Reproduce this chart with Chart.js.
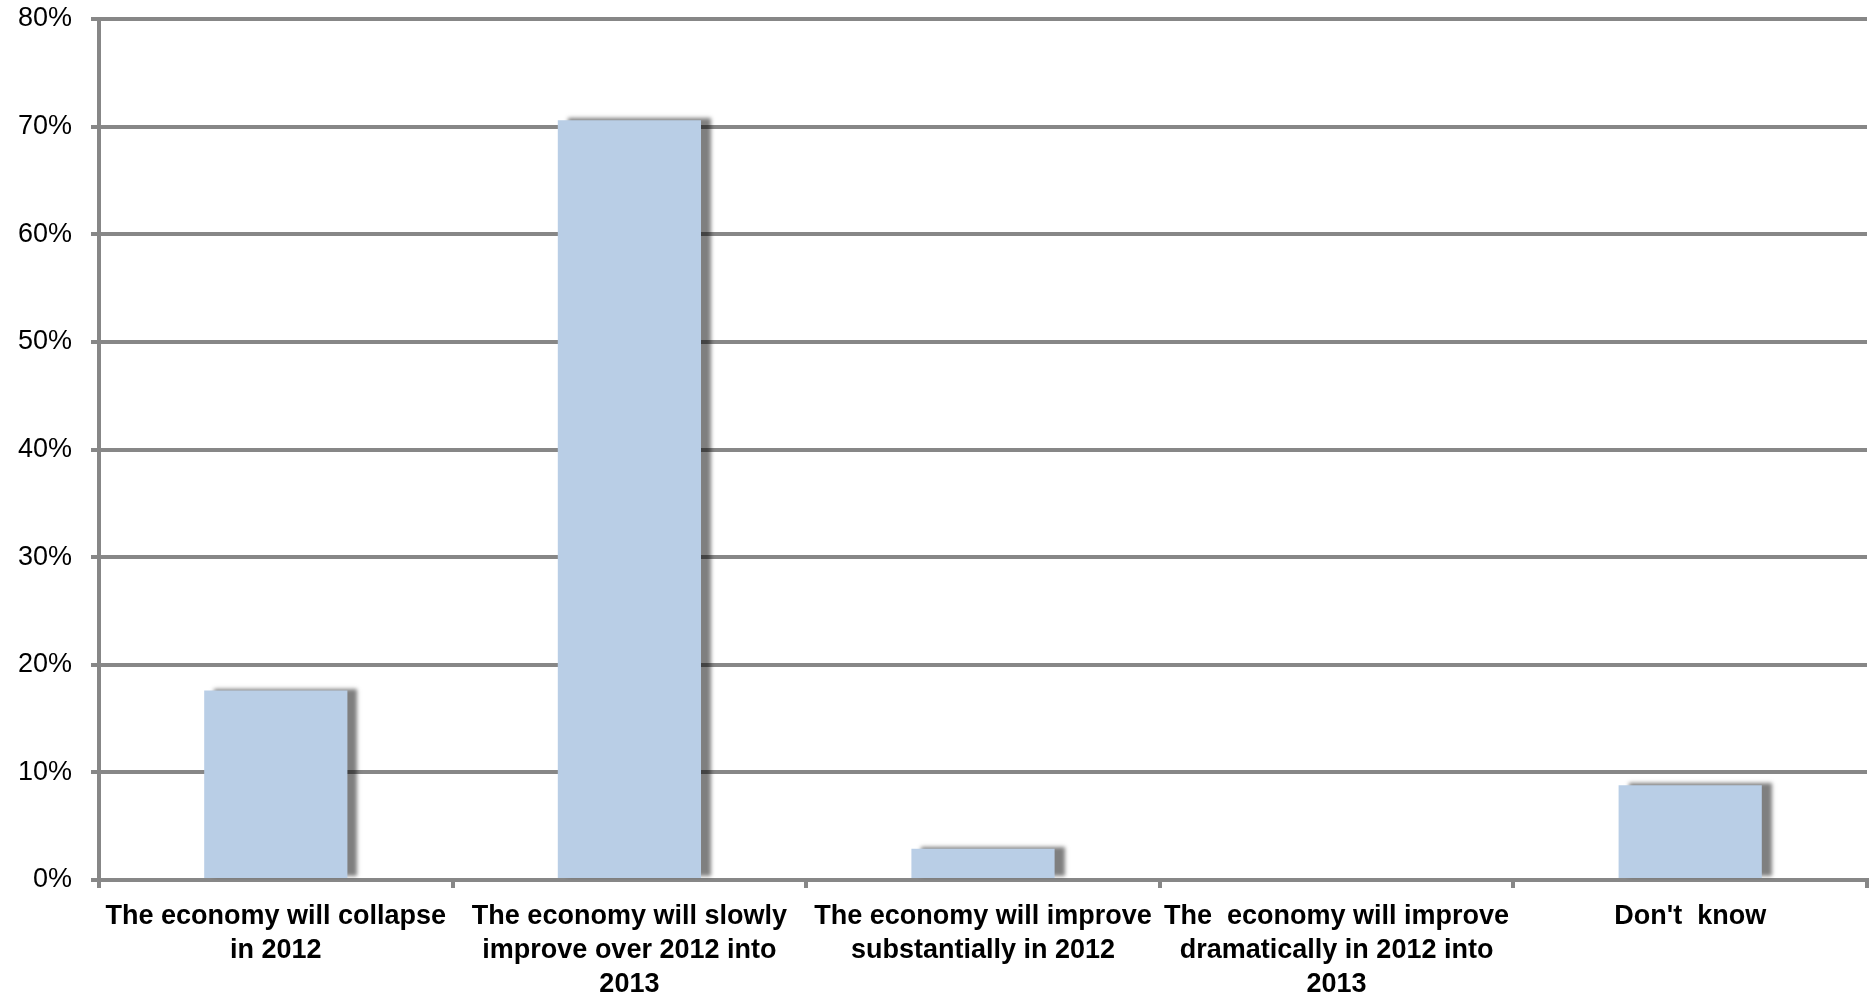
<!DOCTYPE html>
<html lang="en">
<head>
    <meta charset="UTF-8">
    <title>Economy outlook</title>
    <script src="https://cdn.jsdelivr.net/npm/chart.js"></script>
    <style>
        html, body { margin: 0; padding: 0; background: #fff; }
        #wrap { width: 1870px; height: 992px; }
    </style>
</head>
<body>
    <div id="wrap"><canvas id="grafico"></canvas></div>

    <script>
        // answers (each label split over lines as printed under the axis)
        const categories = [
            ['The economy will collapse', 'in 2012'],
            ['The economy will slowly', 'improve over 2012 into', '2013'],
            ['The economy will improve', 'substantially in 2012'],
            ['The  economy will improve', 'dramatically in 2012 into', '2013'],
            ["Don't  know"]
        ];
        // share of respondents, in %
        const shares = [17.6, 70.6, 2.9, 0, 8.8];
        const yTicks = [0, 10, 20, 30, 40, 50, 60, 70, 80];

        const gridGrey = '#878787';

        // soft drop shadow on the right/top of each bar
        const barShadow = {
            id: 'barShadow',
            beforeDatasetsDraw(chart) {
                const c = chart.ctx;
                c.save();
                c.shadowColor = 'rgba(0,0,0,0.5)';
                c.shadowOffsetX = 10;
                c.shadowOffsetY = -2;
                c.shadowBlur = 4;
            },
            afterDatasetsDraw(chart) {
                chart.ctx.restore();
            }
        };

        new Chart(document.getElementById('grafico'), {
            type: 'bar',
            data: {
                labels: categories,
                datasets: [{
                    data: shares,
                    backgroundColor: '#b9cee6',
                    borderWidth: 0,
                    categoryPercentage: 1,
                    barPercentage: 0.405
                }]
            },
            options: {
                responsive: true,
                maintainAspectRatio: false,
                animation: false,
                layout: { padding: { top: 19, right: 3, left: 0, bottom: 0 } },
                plugins: {
                    legend: { display: false },
                    tooltip: { enabled: false }
                },
                scales: {
                    x: {
                        offset: true,
                        afterFit: s => { s.height = 112; s.paddingTop = 0; },
                        grid: {
                            offset: true,
                            drawOnChartArea: false,
                            color: gridGrey,
                            lineWidth: 4,
                            tickLength: 8
                        },
                        border: { color: gridGrey, width: 4 },
                        ticks: {
                            color: '#000',
                            autoSkip: false,
                            maxRotation: 0,
                            minRotation: 0,
                            padding: 12,
                            font: { family: "'Liberation Sans', Arial, sans-serif", size: 27, weight: 'bold', lineHeight: 1.25 }
                        }
                    },
                    y: {
                        min: 0,
                        max: 80,
                        afterFit: s => { s.width = 99; s.paddingTop = 0; },
                        afterBuildTicks: s => { s.ticks = yTicks.map(v => ({ value: v })); },
                        grid: {
                            color: gridGrey,
                            lineWidth: 4,
                            tickLength: 8
                        },
                        border: { color: gridGrey, width: 4 },
                        ticks: {
                            color: '#000',
                            padding: 19,
                            callback: v => v + '%',
                            font: { family: "'Liberation Sans', Arial, sans-serif", size: 27 }
                        }
                    }
                }
            },
            plugins: [barShadow]
        });
    </script>
</body>
</html>
